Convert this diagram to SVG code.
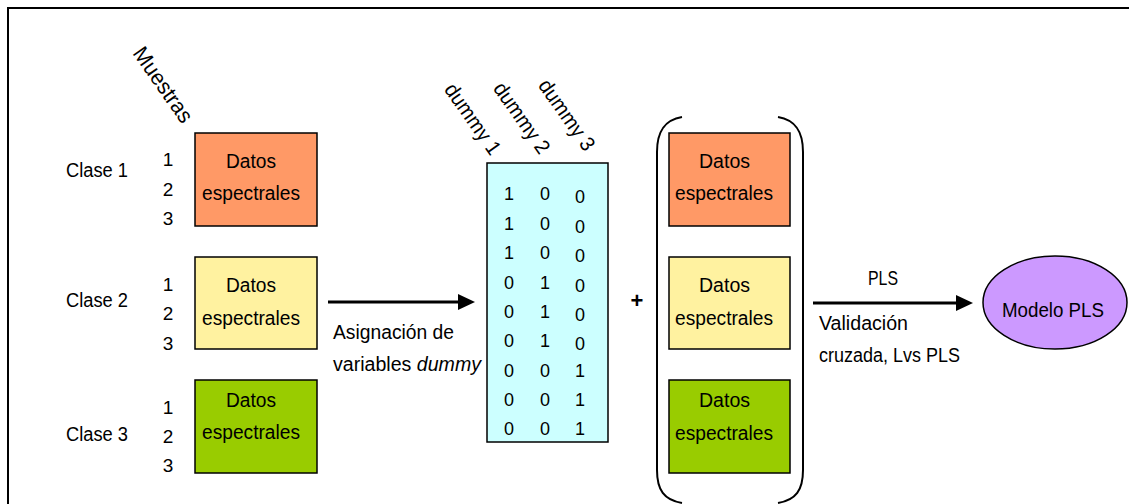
<svg xmlns="http://www.w3.org/2000/svg" width="1129" height="504" viewBox="0 0 1129 504">
<style>
.t{font-family:"Liberation Sans",Arial,sans-serif;font-size:20px;fill:#000}
.n{font-family:"Liberation Sans",Arial,sans-serif;font-size:19px;fill:#000;text-anchor:middle}
.m{font-family:"Liberation Sans",Arial,sans-serif;font-size:18px;fill:#000;text-anchor:middle}
.r{font-family:"Liberation Sans",Arial,sans-serif;font-size:21px;fill:#000;text-anchor:middle}
.box{stroke:#000;stroke-width:1.5}
</style>
<defs>
<marker id="ah" markerWidth="17" markerHeight="18" refX="0" refY="9" orient="auto" markerUnits="userSpaceOnUse">
<path d="M0,1 L17,9 L0,17 z" fill="#000"/>
</marker>
</defs>
<rect width="1129" height="504" fill="#fff"/>
<rect x="8" y="8" width="1200" height="600" fill="none" stroke="#000" stroke-width="2"/>

<text class="r" style="font-size:22px" transform="translate(157,89) rotate(55)" textLength="87" lengthAdjust="spacingAndGlyphs">Muestras</text>

<g id="clase1">
<text class="t" x="66" y="177" textLength="62" lengthAdjust="spacingAndGlyphs">Clase 1</text>
<text class="n" x="168" y="166">1</text><text class="n" x="168" y="196">2</text><text class="n" x="168" y="225">3</text>
<rect class="box" x="195" y="133" width="122" height="93" fill="#FF9966"/>
<text class="t" x="226" y="168" textLength="50" lengthAdjust="spacingAndGlyphs">Datos</text>
<text class="t" x="202" y="200" textLength="98" lengthAdjust="spacingAndGlyphs">espectrales</text>
</g>
<g id="clase2">
<text class="t" x="66" y="307" textLength="62" lengthAdjust="spacingAndGlyphs">Clase 2</text>
<text class="n" x="168" y="291">1</text><text class="n" x="168" y="320">2</text><text class="n" x="168" y="350">3</text>
<rect class="box" x="195" y="257" width="122" height="92" fill="#FFF2A0"/>
<text class="t" x="226" y="292" textLength="50" lengthAdjust="spacingAndGlyphs">Datos</text>
<text class="t" x="202" y="325" textLength="98" lengthAdjust="spacingAndGlyphs">espectrales</text>
</g>
<g id="clase3">
<text class="t" x="66" y="441" textLength="62" lengthAdjust="spacingAndGlyphs">Clase 3</text>
<text class="n" x="168" y="414">1</text><text class="n" x="168" y="443">2</text><text class="n" x="168" y="472">3</text>
<rect class="box" x="195" y="380" width="122" height="93" fill="#99CC00"/>
<text class="t" x="226" y="407" textLength="50" lengthAdjust="spacingAndGlyphs">Datos</text>
<text class="t" x="202" y="439" textLength="98" lengthAdjust="spacingAndGlyphs">espectrales</text>
</g>

<g id="matriz">
<text class="r" transform="translate(467,123) rotate(55)" textLength="82" lengthAdjust="spacingAndGlyphs">dummy 1</text>
<text class="r" transform="translate(516,122) rotate(55)" textLength="82" lengthAdjust="spacingAndGlyphs">dummy 2</text>
<text class="r" transform="translate(561,119) rotate(55)" textLength="82" lengthAdjust="spacingAndGlyphs">dummy 3</text>
<rect class="box" x="487" y="163" width="121" height="279" fill="#CCFFFF"/>
<text class="m" x="509" y="200">1</text><text class="m" x="545" y="200">0</text><text class="m" x="580" y="203">0</text>
<text class="m" x="509" y="230">1</text><text class="m" x="545" y="230">0</text><text class="m" x="580" y="233">0</text>
<text class="m" x="509" y="259">1</text><text class="m" x="545" y="259">0</text><text class="m" x="580" y="262">0</text>
<text class="m" x="509" y="289">0</text><text class="m" x="545" y="289">1</text><text class="m" x="580" y="292">0</text>
<text class="m" x="509" y="318">0</text><text class="m" x="545" y="318">1</text><text class="m" x="580" y="321">0</text>
<text class="m" x="509" y="347">0</text><text class="m" x="545" y="347">1</text><text class="m" x="580" y="350">0</text>
<text class="m" x="509" y="377">0</text><text class="m" x="545" y="377">0</text><text class="m" x="580" y="377">1</text>
<text class="m" x="509" y="406">0</text><text class="m" x="545" y="406">0</text><text class="m" x="580" y="406">1</text>
<text class="m" x="509" y="435">0</text><text class="m" x="545" y="435">0</text><text class="m" x="580" y="435">1</text>
</g>

<text class="t" x="637" y="308" text-anchor="middle" font-weight="bold" style="font-size:22px">+</text>

<g id="grupo">
<path d="M682,117 C664,120 657,132 657,152 L657,470 C657,490 664,500 682,503 M778,117 C796,120 803,132 803,152 L803,470 C803,490 796,500 778,503" fill="none" stroke="#000" stroke-width="2"/>
<rect class="box" x="669" y="133" width="121" height="93" fill="#FF9966"/>
<text class="t" x="699" y="168" textLength="51" lengthAdjust="spacingAndGlyphs">Datos</text>
<text class="t" x="675" y="200" textLength="98" lengthAdjust="spacingAndGlyphs">espectrales</text>
<rect class="box" x="669" y="257" width="121" height="92" fill="#FFF2A0"/>
<text class="t" x="699" y="292" textLength="51" lengthAdjust="spacingAndGlyphs">Datos</text>
<text class="t" x="675" y="325" textLength="98" lengthAdjust="spacingAndGlyphs">espectrales</text>
<rect class="box" x="669" y="380" width="121" height="93" fill="#99CC00"/>
<text class="t" x="699" y="407" textLength="51" lengthAdjust="spacingAndGlyphs">Datos</text>
<text class="t" x="675" y="440" textLength="98" lengthAdjust="spacingAndGlyphs">espectrales</text>
</g>

<g id="modelo">
<ellipse cx="1055" cy="302.5" rx="72" ry="46.5" fill="#CC99FF" stroke="#000" stroke-width="1.5"/>
<text class="t" x="1002" y="317" textLength="102" lengthAdjust="spacingAndGlyphs">Modelo PLS</text>
</g>

<g id="conectores">
<line x1="328" y1="302" x2="458" y2="302" stroke="#000" stroke-width="3" marker-end="url(#ah)"/>
<text class="t" x="333" y="339" textLength="121" lengthAdjust="spacingAndGlyphs">Asignación de</text>
<text class="t" x="333" y="371" textLength="148" lengthAdjust="spacingAndGlyphs">variables <tspan font-style="italic">dummy</tspan></text>
<line x1="813" y1="303" x2="956" y2="303" stroke="#000" stroke-width="3" marker-end="url(#ah)"/>
<text class="t" x="868" y="285" textLength="30" lengthAdjust="spacingAndGlyphs">PLS</text>
<text class="t" x="819" y="330" textLength="89" lengthAdjust="spacingAndGlyphs">Validación</text>
<text class="t" x="819" y="362" textLength="141" lengthAdjust="spacingAndGlyphs">cruzada, Lvs PLS</text>
</g>
</svg>
